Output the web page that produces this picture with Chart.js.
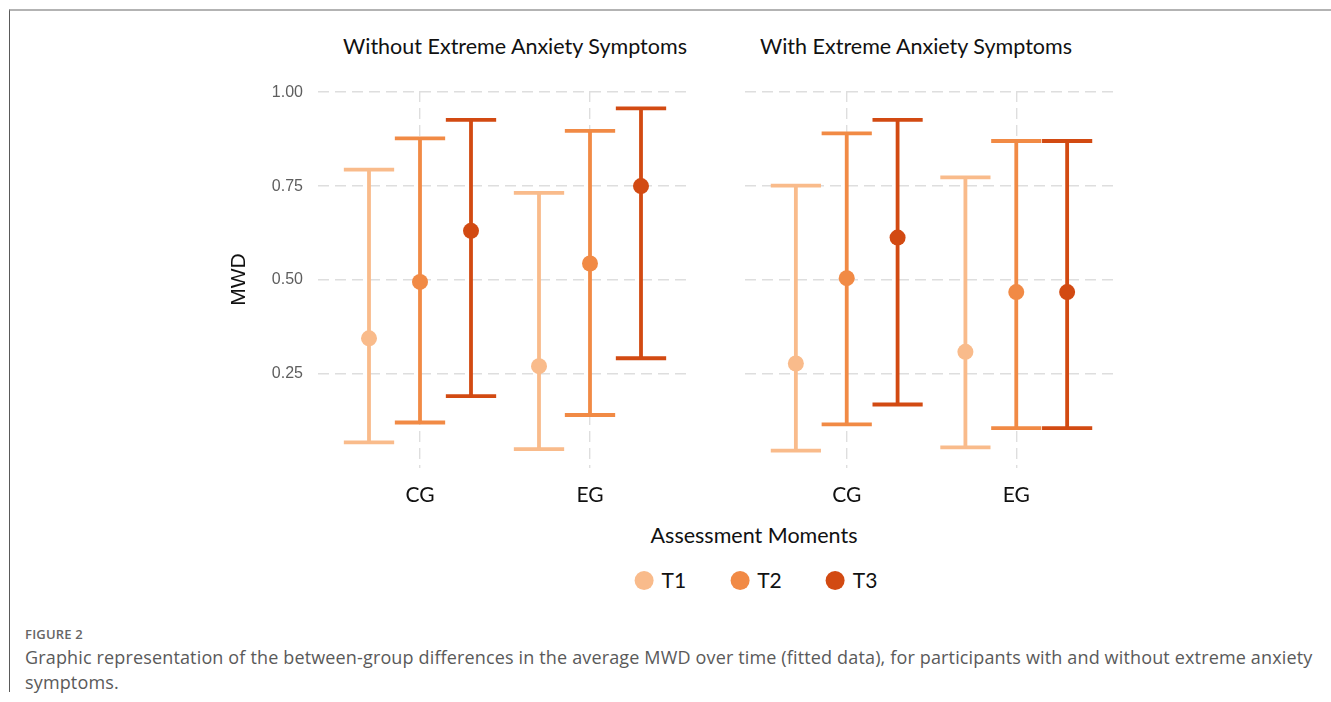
<!DOCTYPE html>
<html>
<head>
<meta charset="utf-8">
<script src="https://cdn.jsdelivr.net/npm/chart.js@4.4.1/dist/chart.umd.min.js"></script>
<style>
  html, body { margin: 0; padding: 0; background: #fff; width: 1331px; height: 702px; overflow: hidden; }
  .frame { position: absolute; left: 9px; top: 9px; width: 1322px; height: 683px; box-sizing: border-box;
           border-top: 2px solid #b3b3b3; border-left: 1px solid #5a5a5a; }
  .panel-title { position: absolute; top: 33px; transform: translateX(-50%); font-family: Lato, sans-serif;
                 font-size: 21.5px; line-height: 26px; color: #111; white-space: nowrap; }
  .chart-box { position: absolute; top: 0; height: 513px; }
  #leftBox { left: 178px; width: 530px; }
  #rightBox { left: 730px; width: 400px; }
  .axis-name { position: absolute; left: 754px; top: 522px; transform: translateX(-50%); font-family: Lato, sans-serif;
               font-size: 21.5px; line-height: 26px; color: #111; white-space: nowrap; }
  #legend { position: absolute; left: 756px; top: 567px; transform: translateX(-50%); display: flex; gap: 44px;
            font-family: Lato, sans-serif; font-size: 21px; line-height: 26px; color: #111; white-space: nowrap; }
  #legend .item { display: flex; align-items: center; }
  #legend .dot { width: 19px; height: 19px; border-radius: 50%; margin-right: 8px; }
  .fig-label { position: absolute; left: 25px; top: 625px; font-family: 'Open Sans', sans-serif; font-weight: 600;
               font-size: 13px; color: #666; letter-spacing: 0.2px; }
  .fig-caption { position: absolute; left: 25px; top: 645px; font-family: 'Open Sans', sans-serif; font-size: 18px;
                 letter-spacing: 0.15px; line-height: 25px; color: #5a5a5a; white-space: nowrap; }
</style>
</head>
<body>
<div class="frame"></div>
<div class="panel-title" style="left:515px">Without Extreme Anxiety Symptoms</div>
<div class="panel-title" style="left:916px">With Extreme Anxiety Symptoms</div>
<div class="chart-box" id="leftBox"><canvas id="withoutChart"></canvas></div>
<div class="chart-box" id="rightBox"><canvas id="withChart"></canvas></div>
<div class="axis-name">Assessment Moments</div>
<div id="legend"></div>
<div class="fig-label">FIGURE 2</div>
<div class="fig-caption">Graphic representation of the between-group differences in the average MWD over time (fitted data), for participants with and without extreme anxiety<br>symptoms.</div>

<script>
// Groups on the x axis and assessment moments (one series each)
const groups = ['CG', 'EG'];
const moments = ['T1', 'T2', 'T3'];
const yTickValues = [0.25, 0.50, 0.75, 1.00];

// Participants without extreme anxiety symptoms: rows T1..T3, columns CG, EG
const withoutMean  = [[0.345, 0.271], [0.495, 0.544], [0.631, 0.750]];
const withoutLower = [[0.068, 0.050], [0.121, 0.141], [0.191, 0.292]];
const withoutUpper = [[0.794, 0.732], [0.877, 0.897], [0.926, 0.957]];

// Participants with extreme anxiety symptoms
const withMean  = [[0.278, 0.309], [0.505, 0.468], [0.613, 0.468]];
const withLower = [[0.046, 0.055], [0.116, 0.106], [0.169, 0.106]];
const withUpper = [[0.751, 0.773], [0.890, 0.870], [0.926, 0.870]];

const momentColors = ['#f9bb8b', '#f18a45', '#d24a12'];
const dodge = [-0.3, 0, 0.3];     // horizontal shift of each moment inside a group
const capHalfWidth = 0.148;       // half the whisker cap width, in x units

const TEXT_FONT = 'Lato, sans-serif';
const TICK_FONT = "'Liberation Sans', Arial, sans-serif";

function buildDatasets(mean, lower, upper) {
  return moments.map((m, k) => ({
    label: m,
    data: groups.map((g, i) => ({ x: i + 1 + dodge[k], y: mean[k][i], yMin: lower[k][i], yMax: upper[k][i] })),
    backgroundColor: momentColors[k],
    borderColor: momentColors[k],
    pointRadius: 8,
    pointBorderWidth: 0,
    showLine: false
  }));
}

// Whiskers with caps from yMin to yMax, drawn under the points
const errorBars = {
  id: 'errorBars',
  beforeDatasetsDraw(chart) {
    const { ctx } = chart;
    const xs = chart.scales.x, ys = chart.scales.y;
    chart.data.datasets.forEach((ds, di) => {
      if (!chart.isDatasetVisible(di)) return;
      ctx.save();
      ctx.strokeStyle = ds.borderColor;
      ctx.lineWidth = 3.8;
      ctx.lineCap = 'butt';
      ds.data.forEach(d => {
        const px = xs.getPixelForValue(d.x);
        const left = xs.getPixelForValue(d.x - capHalfWidth);
        const right = xs.getPixelForValue(d.x + capHalfWidth);
        const top = ys.getPixelForValue(d.yMax);
        const bottom = ys.getPixelForValue(d.yMin);
        ctx.beginPath();
        ctx.moveTo(px, top); ctx.lineTo(px, bottom);
        ctx.moveTo(left, top); ctx.lineTo(right, top);
        ctx.moveTo(left, bottom); ctx.lineTo(right, bottom);
        ctx.stroke();
      });
      ctx.restore();
    });
  }
};

// Shared legend below both panels, built from the chart's own legend items
const htmlLegend = {
  id: 'htmlLegend',
  afterUpdate(chart) {
    const box = document.getElementById('legend');
    box.innerHTML = '';
    const items = chart.options.plugins.legend.labels.generateLabels(chart);
    items.forEach(item => {
      const el = document.createElement('div');
      el.className = 'item';
      const dot = document.createElement('span');
      dot.className = 'dot';
      dot.style.background = item.fillStyle;
      const txt = document.createElement('span');
      txt.textContent = item.text;
      el.appendChild(dot);
      el.appendChild(txt);
      box.appendChild(el);
    });
  }
};

function makeOptions(showYLabels, yAxisWidth, rightPad) {
  const gridStyle = { color: '#dedede', lineWidth: 1.4, drawTicks: false };
  return {
    responsive: true,
    maintainAspectRatio: false,
    animation: false,
    events: [],
    layout: { padding: { top: 91, right: rightPad, bottom: 0, left: 0 } },
    plugins: { legend: { display: false }, tooltip: { enabled: false }, title: { display: false } },
    scales: {
      x: {
        type: 'linear', min: 0.4, max: 2.6,
        afterBuildTicks: s => { s.ticks = groups.map((g, i) => ({ value: i + 1 })); },
        afterFit: s => { s.height = 45; },
        ticks: { callback: v => groups[Math.round(v) - 1], padding: 15, color: '#111', autoSkip: false, maxRotation: 0,
                 font: { family: TEXT_FONT, size: 21 } },
        grid: gridStyle,
        border: { display: false, dash: [11, 6] }
      },
      y: {
        min: 0, max: 1.003,
        afterBuildTicks: s => { s.ticks = yTickValues.map(v => ({ value: v })); },
        afterFit: s => { s.width = yAxisWidth; },
        ticks: { display: showYLabels, callback: v => v.toFixed(2), padding: 15, color: '#5e5e5e',
                 font: { family: TICK_FONT, size: 16 } },
        grid: gridStyle,
        border: { display: false, dash: [11, 6] },
        title: { display: showYLabels, text: 'MWD', color: '#111', font: { family: TICK_FONT, size: 21 },
                 padding: { top: 49, bottom: 0 } }
      }
    }
  };
}

new Chart(document.getElementById('withoutChart'), {
  type: 'scatter',
  data: { datasets: buildDatasets(withoutMean, withoutLower, withoutUpper) },
  options: makeOptions(true, 140, 16),
  plugins: [errorBars]
});

new Chart(document.getElementById('withChart'), {
  type: 'scatter',
  data: { datasets: buildDatasets(withMean, withLower, withUpper) },
  options: makeOptions(false, 15, 12),
  plugins: [errorBars, htmlLegend]
});
</script>
</body>
</html>
